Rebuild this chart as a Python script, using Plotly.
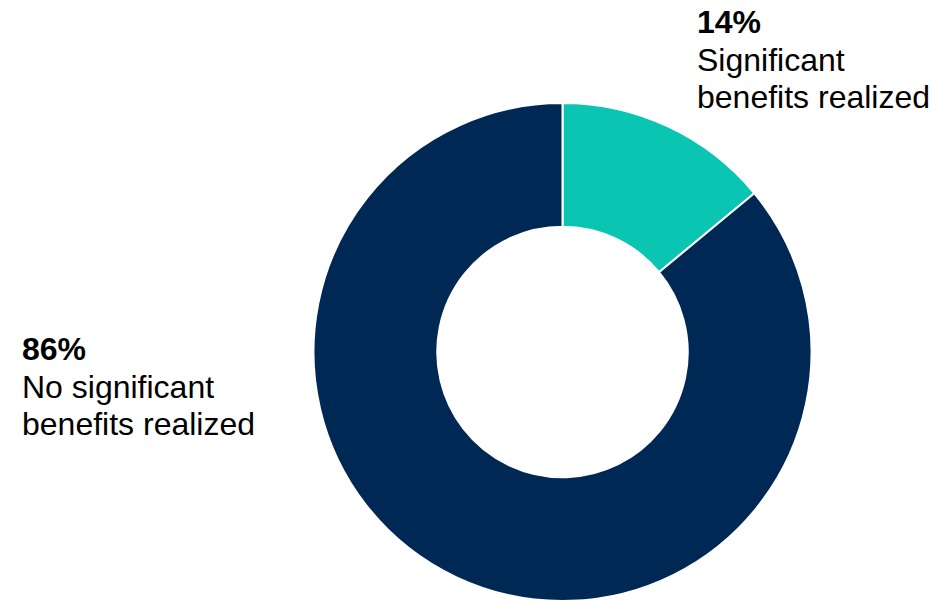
import plotly.graph_objects as go

# Share of respondents by outcome
categories = ["Significant benefits realized", "No significant benefits realized"]
shares = [14, 86]
colors = ["#0BC5B3", "#002855"]
# Wrapped caption lines shown under each percentage
caption_lines = [["Significant", "benefits realized"], ["No significant", "benefits realized"]]

W, H = 936, 601

fig = go.Figure(
    go.Pie(
        labels=categories,
        values=shares,
        hole=0.503,
        sort=False,
        direction="clockwise",
        rotation=0,
        marker=dict(colors=colors, line=dict(color="#FFFFFF", width=2)),
        textinfo="none",
        hoverinfo="skip",
        showlegend=False,
        domain=dict(x=[313.5 / W, 811.5 / W], y=[0, (H - 103) / H]),
    )
)

base_font = dict(family="Liberation Sans, Arial, sans-serif", size=32, color="#000000")

# Left edge and vertical centre of the first line for each label block
label_anchor = [(695, 22), (20, 349)]
line_step = 37.5

for val, lines, (px, py) in zip(shares, caption_lines, label_anchor):
    texts = [f"<b>{val}%</b>"] + lines
    for i, t in enumerate(texts):
        fig.add_annotation(
            x=px / W, y=1 - (py + i * line_step) / H,
            xref="paper", yref="paper",
            xanchor="left", yanchor="middle", align="left",
            text=t, showarrow=False, font=base_font,
        )

fig.update_layout(
    width=W, height=H,
    margin=dict(l=0, r=0, t=0, b=0),
    paper_bgcolor="#FFFFFF", plot_bgcolor="#FFFFFF",
)

fig.write_html("out.html")
